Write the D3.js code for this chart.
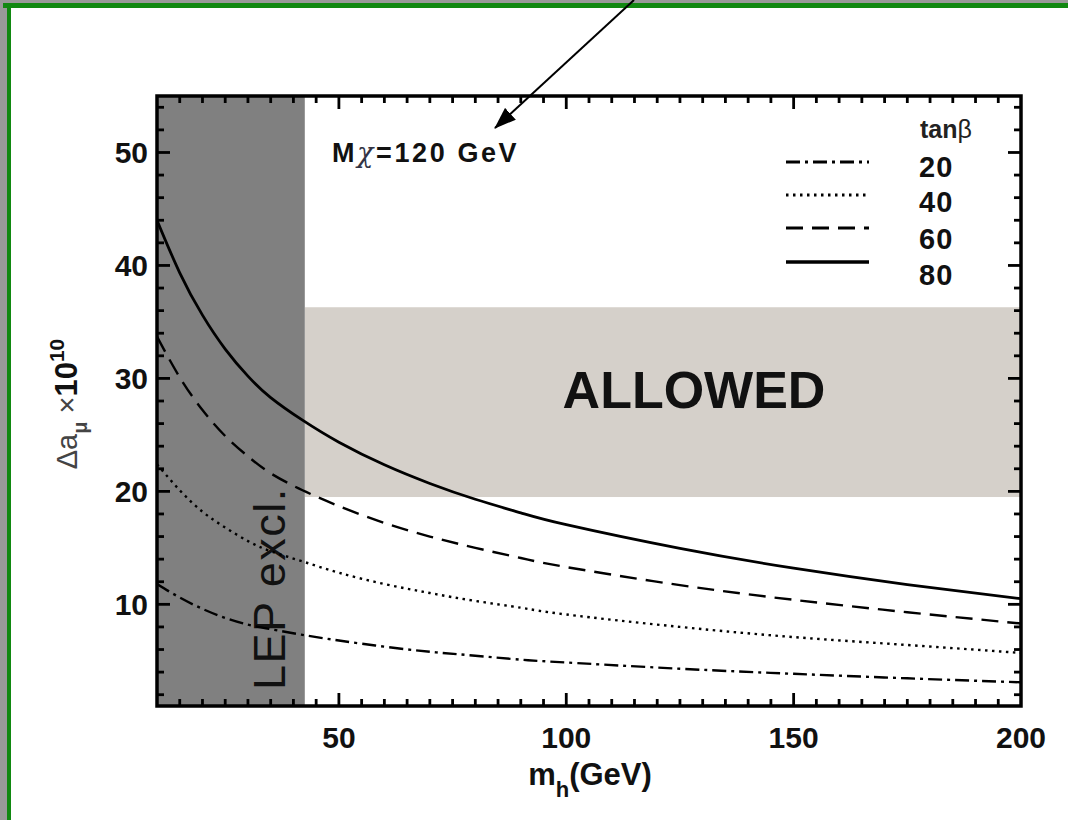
<!DOCTYPE html>
<html>
<head>
<meta charset="utf-8">
<script src="https://cdn.jsdelivr.net/npm/d3@7"></script>
<style>
  html, body { margin: 0; padding: 0; background: #fff; }
  #app { width: 1068px; height: 820px; }
  text { font-family: Arial, "Liberation Sans", sans-serif; }
</style>
</head>
<body>
<div id="app"></div>
<script>
// Values
const masses = [10, 15, 20, 25, 30, 35, 42, 50, 60, 70, 80, 90, 100, 125, 150, 175, 200];
const tan20 = [11.8, 10.6, 9.6, 8.8, 8.2, 7.8, 7.3, 6.8, 6.25, 5.8, 5.45, 5.1, 4.85, 4.3, 3.85, 3.45, 3.1];
const tan40 = [22.4, 20.1, 18.2, 16.8, 15.6, 14.7, 13.8, 12.8, 11.8, 11.0, 10.3, 9.7, 9.1, 8.0, 7.1, 6.4, 5.7];
const tan60 = [33.7, 30.1, 27.2, 24.9, 23.1, 21.6, 20.1, 18.7, 17.2, 16.0, 15.0, 14.1, 13.3, 11.7, 10.4, 9.3, 8.3];
const tan80 = [44.0, 39.35, 35.6, 32.6, 30.2, 28.3, 26.3, 24.35, 22.35, 20.7, 19.3, 18.1, 17.05, 14.95, 13.2, 11.75, 10.5];
const tanLabels = ["20", "40", "60", "80"];
const lepLimit = [10, 42.5];
const allowedBand = [19.5, 36.3];
const xTicks = [50, 100, 150, 200];
const yTicks = [10, 20, 30, 40, 50];

function drawPlot(targetDiv) {
  const width = 1068, height = 820;
  const margin = {top: 96, left: 157, right: 47, bottom: 114};
  const svg = d3.select(targetDiv).append("svg")
    .attr("width", width)
    .attr("height", height);

  // page frame: grey strip + green border on top and left
  svg.append("rect").attr("x", 0).attr("y", 0).attr("width", width).attr("height", 3).attr("fill", "#999");
  svg.append("rect").attr("x", 0).attr("y", 0).attr("width", 7).attr("height", height).attr("fill", "#999");
  svg.append("rect").attr("x", 3).attr("y", 3).attr("width", width).attr("height", 5).attr("fill", "#118811");
  svg.append("rect").attr("x", 7).attr("y", 3).attr("width", 4).attr("height", height).attr("fill", "#118811");

  const x = d3.scaleLinear().domain([10, 200]).range([margin.left, width - margin.right]);
  const y = d3.scaleLinear().domain([1, 55]).range([height - margin.bottom, margin.top]);
  const x0 = x.range()[0], x1 = x.range()[1], y0 = y.range()[0], y1 = y.range()[1];

  // allowed band
  svg.append("rect")
    .attr("x", x(lepLimit[1])).attr("width", x1 - x(lepLimit[1]))
    .attr("y", y(allowedBand[1])).attr("height", y(allowedBand[0]) - y(allowedBand[1]))
    .attr("fill", "#d5d0ca");
  // LEP exclusion
  svg.append("rect")
    .attr("x", x(lepLimit[0])).attr("width", x(lepLimit[1]) - x(lepLimit[0]))
    .attr("y", y1).attr("height", y0 - y1)
    .attr("fill", "#808080");

  svg.append("text")
    .attr("x", 694).attr("y", 408)
    .attr("text-anchor", "middle")
    .attr("font-size", 52).attr("font-weight", "bold").attr("fill", "#111")
    .text("ALLOWED");

  svg.append("text")
    .attr("transform", `translate(285, 690) rotate(-90)`)
    .attr("font-size", 45)
    .attr("letter-spacing", 1.5)
    .attr("fill", "#111")
    .text("LEP excl.");

  // curves
  const series = [
    {vals: tan20, dash: "14,5,3,5"},
    {vals: tan40, dash: "2.5,4.5"},
    {vals: tan60, dash: "17,9"},
    {vals: tan80, dash: null}
  ];
  const line = d3.line()
    .x((d, i) => x(masses[i]))
    .y(d => y(d))
    .curve(d3.curveNatural);
  svg.append("clipPath").attr("id", "plotclip")
    .append("rect").attr("x", x0).attr("y", y1).attr("width", x1 - x0).attr("height", y0 - y1);
  svg.append("g").attr("clip-path", "url(#plotclip)")
    .selectAll("path").data(series).join("path")
    .attr("d", d => line(d.vals))
    .attr("fill", "none")
    .attr("stroke", "#000")
    .attr("stroke-width", (d, i) => i === 3 ? 2.8 : 2.4)
    .attr("stroke-dasharray", d => d.dash);

  // legend
  const legY = [162, 195, 228, 262];
  const legText = [177, 212, 249, 285];
  const leg = svg.append("g");
  leg.selectAll("line").data(series).join("line")
    .attr("x1", 786).attr("x2", 869)
    .attr("y1", (d, i) => legY[i]).attr("y2", (d, i) => legY[i])
    .attr("stroke", "#000").attr("stroke-width", (d, i) => i === 3 ? 3.5 : 3)
    .attr("stroke-dasharray", d => d.dash);
  leg.selectAll("text.lab").data(tanLabels).join("text")
    .attr("class", "lab")
    .attr("x", 919).attr("y", (d, i) => legText[i])
    .attr("font-size", 29).attr("font-weight", "bold").attr("fill", "#111")
    .attr("letter-spacing", 1)
    .text(d => d);
  const tb = leg.append("text").attr("x", 920).attr("y", 138)
    .attr("font-size", 25).attr("font-weight", "bold").attr("fill", "#222");
  tb.append("tspan").text("tan");
  tb.append("tspan").attr("font-weight", "normal").attr("font-size", 25).text("β");

  // M_chi label
  const mt = svg.append("text").attr("x", 332).attr("y", 162)
    .attr("font-size", 27).attr("font-weight", "bold").attr("fill", "#111")
    .attr("letter-spacing", 2.6);
  mt.append("tspan").text("M");
  mt.append("tspan").attr("font-weight", "normal").attr("font-family", "DejaVu Serif, serif").attr("font-style", "italic").attr("font-size", 27).attr("fill", "#334").text("χ");
  mt.append("tspan").text("=120 GeV");

  // ticks on all four sides (inward)
  const tk = svg.append("g").attr("stroke", "#000").attr("stroke-width", 2.8);
  const xMinor = d3.range(15, 200, 5);
  const yMinor = d3.range(2, 55, 2);
  xMinor.forEach(v => {
    const L = v % 50 === 0 ? 13 : 7;
    tk.append("line").attr("x1", x(v)).attr("x2", x(v)).attr("y1", y0).attr("y2", y0 - L);
    tk.append("line").attr("x1", x(v)).attr("x2", x(v)).attr("y1", y1).attr("y2", y1 + L);
  });
  yMinor.forEach(v => {
    const L = v % 10 === 0 ? 13 : 7;
    tk.append("line").attr("x1", x0).attr("x2", x0 + L).attr("y1", y(v)).attr("y2", y(v));
    tk.append("line").attr("x1", x1).attr("x2", x1 - L).attr("y1", y(v)).attr("y2", y(v));
  });

  // frame
  svg.append("rect").attr("x", x0).attr("y", y1).attr("width", x1 - x0).attr("height", y0 - y1)
    .attr("fill", "none").attr("stroke", "#000").attr("stroke-width", 3.5);

  // tick labels
  svg.append("g").selectAll("text").data(xTicks).join("text")
    .attr("x", d => x(d)).attr("y", y0 + 42)
    .attr("text-anchor", "middle")
    .attr("font-size", 30).attr("font-weight", "bold").attr("fill", "#111")
    .text(d => d);
  svg.append("g").selectAll("text").data(yTicks).join("text")
    .attr("x", x0 - 9).attr("y", d => y(d) + 11)
    .attr("text-anchor", "end")
    .attr("font-size", 30).attr("font-weight", "bold").attr("fill", "#111")
    .text(d => d);

  // axis titles
  const xt = svg.append("text").attr("x", 590).attr("y", 785)
    .attr("text-anchor", "middle").attr("font-size", 31).attr("font-weight", "bold").attr("fill", "#111");
  xt.append("tspan").text("m");
  xt.append("tspan").attr("font-size", 22).attr("dy", 12).text("h");
  xt.append("tspan").attr("dy", -12).text("(GeV)");

  const yt = svg.append("text")
    .attr("transform", `translate(77, 404) rotate(-90)`)
    .attr("text-anchor", "middle").attr("font-size", 29).attr("fill", "#444");
  yt.append("tspan").text("Δa");
  yt.append("tspan").attr("font-size", 20).attr("dy", 10).attr("font-weight", "bold").text("μ");
  yt.append("tspan").attr("dy", -10).text(" ×");
  yt.append("tspan").attr("font-weight", "bold").attr("fill", "#111").attr("font-size", 31).text("10");
  yt.append("tspan").attr("font-size", 21).attr("dy", -13).attr("font-weight", "bold").attr("fill", "#111").text("10");

  // arrow from top
  svg.append("defs").append("marker")
    .attr("id", "arr").attr("viewBox", "0 0 22 16").attr("refX", 21).attr("refY", 8)
    .attr("markerWidth", 22).attr("markerHeight", 16).attr("markerUnits", "userSpaceOnUse")
    .attr("orient", "auto")
    .append("path").attr("d", "M0,0 L22,8 L0,16 Z").attr("fill", "#000");
  svg.append("line")
    .attr("x1", 634).attr("y1", 0).attr("x2", 495).attr("y2", 128)
    .attr("stroke", "#000").attr("stroke-width", 2)
    .attr("marker-end", "url(#arr)");
}

function main() {
  drawPlot("#app");
}

document.addEventListener("DOMContentLoaded", main);
</script>
</body>
</html>
